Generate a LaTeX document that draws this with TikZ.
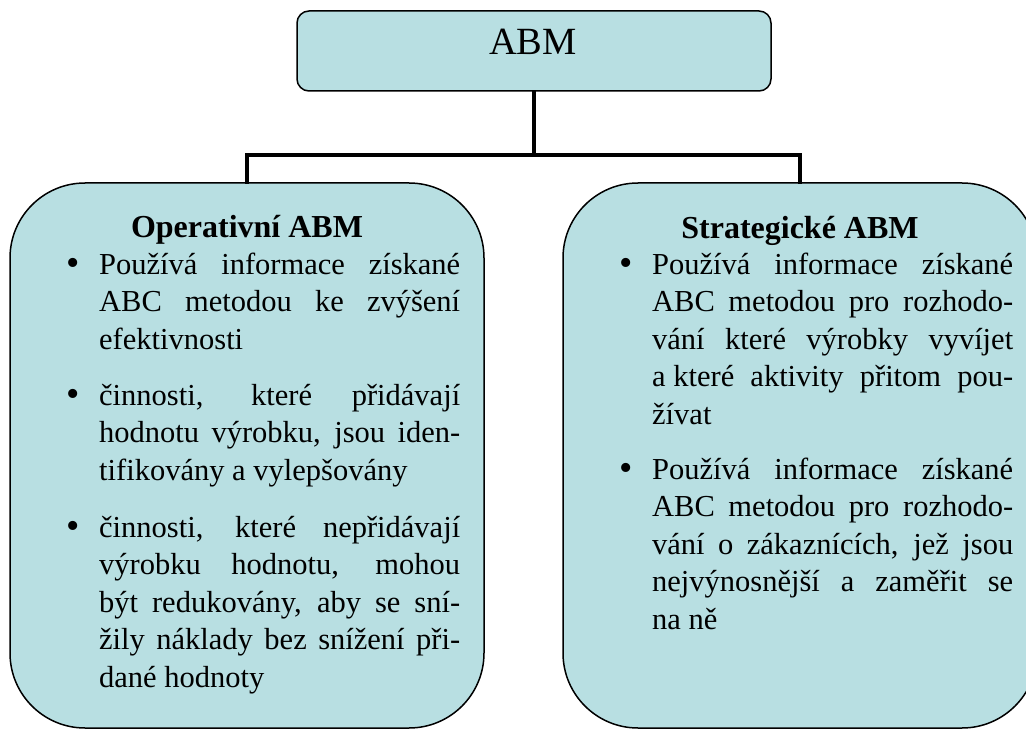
\documentclass[tikz,border=0pt]{standalone}
\usepackage{fontspec}
\setmainfont{Liberation Serif}
\definecolor{boxfill}{RGB}{184,223,226}
\newcommand\jline[1]{\hbox to 361pt{#1}}
\newcommand\lline[1]{\hbox{#1}}
\tikzset{
  box/.style={draw=black, line width=1.5pt, fill=boxfill, inner sep=0pt},
  conn/.style={draw=black, line width=4pt, line join=miter, line cap=rect},
  body/.style={anchor=base west, inner sep=0pt, font=\fontsize{30.5}{37.5}\selectfont},
  bul/.style={anchor=base, inner sep=0pt, font=\fontsize{38}{38}\selectfont},
  head/.style={anchor=base, inner sep=0pt, font=\fontsize{32}{32}\selectfont\bfseries},
}
\begin{document}
\begin{tikzpicture}[x=1pt,y=-1pt]
\clip (0,0) rectangle (1026,733);
\useasboundingbox (0,0) rectangle (1026,733);
% boxes
\node[box, rounded corners=12pt, minimum width=474pt, minimum height=80pt] (abm) at (534,51) {};
\node[anchor=base, inner sep=0pt, font=\fontsize{38.5}{38.5}\selectfont] (abmt) at (533,55) {ABM};
\node[box, rounded corners=75pt, minimum width=474pt, minimum height=545pt] (left) at (247,455.5) {};
\node[box, rounded corners=75pt, minimum width=474pt, minimum height=545pt] (right) at (800,455.5) {};
% connectors
\coordinate (j) at (534,155);
\draw[conn] (abm.south) -- (j);
\draw[conn] (left.north) -- (left.north |- j) -- (right.north |- j) -- (right.north);
% headings
\node[head] (lh) at (247,237) {Operativní ABM};
\node[head] (rh) at (800,238) {Strategické ABM};
% left bullets
\node[bul] (lb1) at (73.5,275.5) {•};
\node[body] (lt1) at (99,274) {\vtop{\baselineskip=37.5pt
  \jline{Používá informace získané}
  \jline{ABC metodou ke zvýšení}
  \lline{efektivnosti}}};
\node[bul] (lb2) at (73.5,406.5) {•};
\node[body] (lt2) at (99,405) {\vtop{\baselineskip=37.5pt
  \jline{činnosti, které přidávají}
  \jline{hodnotu výrobku, jsou iden-}
  \lline{tifikovány a vylepšovány}}};
\node[bul] (lb3) at (73.5,538.5) {•};
\node[body] (lt3) at (99,537) {\vtop{\baselineskip=37.5pt
  \jline{činnosti, které nepřidávají}
  \jline{výrobku hodnotu, mohou}
  \jline{být redukovány, aby se sní-}
  \jline{žily náklady bez snížení při-}
  \lline{dané hodnoty}}};
% right bullets
\node[bul] (rb1) at (626.5,275.5) {•};
\node[body] (rt1) at (652,274) {\vtop{\baselineskip=37.5pt
  \jline{Používá informace získané}
  \jline{ABC metodou pro rozhodo-}
  \jline{vání které výrobky vyvíjet}
  \jline{a\kern0.25em které aktivity přitom pou-}
  \lline{žívat}}};
\node[bul] (rb2) at (626.5,480.5) {•};
\node[body] (rt2) at (652,479) {\vtop{\baselineskip=37.5pt
  \jline{Používá informace získané}
  \jline{ABC metodou pro rozhodo-}
  \jline{vání o zákaznících, jež jsou}
  \jline{nejvýnosnější a zaměřit se}
  \lline{na ně}}};
\end{tikzpicture}
\end{document}
